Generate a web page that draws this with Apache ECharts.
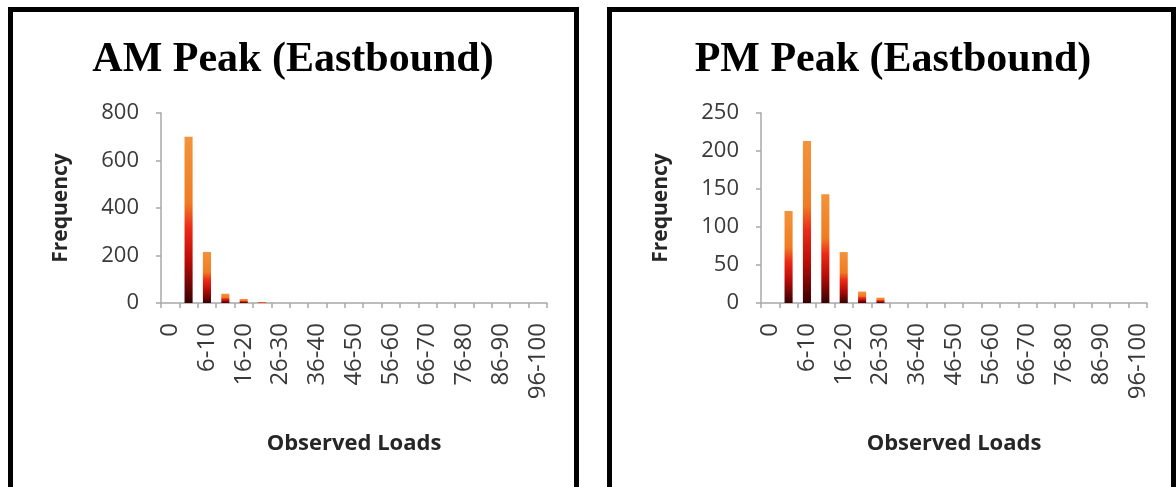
<!DOCTYPE html>
<html><head><meta charset="utf-8">
<script src="https://cdn.jsdelivr.net/npm/echarts@6/dist/echarts.min.js"></script>
<style>html,body{margin:0;padding:0;background:#fff}#c{width:1176px;height:487px}</style>
</head><body><div id="c"></div>
<script>
const categories = ['0','1-5','6-10','11-15','16-20','21-25','26-30','31-35','36-40','41-45','46-50','51-55','56-60','61-65','66-70','71-75','76-80','81-85','86-90','91-95','96-100'];
const amValues = [0,700,215,39,17,4,0,0,0,0,0,0,0,0,0,0,0,0,0,0,0];
const pmValues = [0,121,213,143,67,15,7,0,0,0,0,0,0,0,0,0,0,0,0,0,0];
const amTitle = 'AM Peak (Eastbound)';
const pmTitle = 'PM Peak (Eastbound)';
const xName = 'Observed Loads';
const yName = 'Frequency';
const amYMax = 800, amYStep = 200;
const pmYMax = 250, pmYStep = 50;

const chart = echarts.init(document.getElementById('c'), null, {renderer:'canvas'});
const barColor = new echarts.graphic.LinearGradient(0,0,0,1,[
  {offset:0, color:'#f3933a'},
  {offset:0.4, color:'#f07c22'},
  {offset:0.55, color:'#ec2a16'},
  {offset:0.75, color:'#b80c08'},
  {offset:1, color:'#380202'}
]);
const labelFont = {fontFamily:'Open Sans', color:'#3a3a3a'};
const axisGray = '#a8a8a8';
function xAxis(gi){
  return {type:'category', gridIndex:gi, data:categories,
    boundaryGap:true,
    axisLine:{lineStyle:{color:axisGray,width:1.5}},
    axisTick:{show:true, interval:0, length:5, lineStyle:{color:axisGray,width:1.5}},
    axisLabel:Object.assign({interval:1, rotate:90, fontSize:24, margin:20}, labelFont),
    name:xName, nameLocation:'middle', nameGap:130,
    nameTextStyle:{fontFamily:'Open Sans', fontWeight:'bold', fontSize:22, color:'#262626'},
    splitLine:{show:false}};
}
function yAxis(gi,max,step){
  return {type:'value', gridIndex:gi, min:0, max:max, interval:step,
    axisLine:{show:true, lineStyle:{color:axisGray,width:1.5}},
    axisTick:{show:true, length:5, lineStyle:{color:axisGray,width:1.5}},
    axisLabel:Object.assign({fontSize:22, margin:22}, labelFont),
    splitLine:{show:false},
    name:yName, nameLocation:'middle', nameGap:89,
    nameTextStyle:{fontFamily:'Open Sans', fontWeight:'bold', fontSize:21, color:'#262626'}};
}
chart.setOption({
  animation:false,
  backgroundColor:'#ffffff',
  title:[
    {text:amTitle, left:288, top:34, textAlign:'center',
     textStyle:{fontFamily:'Liberation Serif', fontWeight:'bold', fontSize:42, color:'#000'}},
    {text:pmTitle, left:888, top:34, textAlign:'center',
     textStyle:{fontFamily:'Liberation Serif', fontWeight:'bold', fontSize:42, color:'#000'}}
  ],
  grid:[
    {left:161, top:113, width:386, height:190},
    {left:761, top:113, width:386, height:190}
  ],
  xAxis:[xAxis(0), xAxis(1)],
  yAxis:[yAxis(0,amYMax,amYStep), yAxis(1,pmYMax,pmYStep)],
  series:[
    {type:'bar', xAxisIndex:0, yAxisIndex:0, data:amValues, barWidth:'44%', itemStyle:{color:barColor}},
    {type:'bar', xAxisIndex:1, yAxisIndex:1, data:pmValues, barWidth:'44%', itemStyle:{color:barColor}}
  ],
  graphic:[
    {type:'rect', shape:{x:10.5, y:9.5, width:566, height:500}, style:{fill:'none', stroke:'#000', lineWidth:5}, z:100},
    {type:'rect', shape:{x:609.5, y:9.5, width:564, height:500}, style:{fill:'none', stroke:'#000', lineWidth:5}, z:100}
  ]
});
</script></body></html>
